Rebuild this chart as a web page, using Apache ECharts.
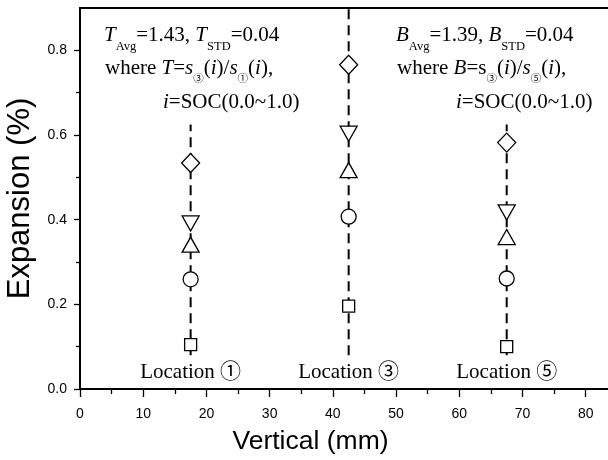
<!DOCTYPE html>
<html>
<head>
<meta charset="utf-8">
<script src="https://cdn.jsdelivr.net/npm/echarts@6/dist/echarts.min.js"></script>
<style>
  html, body { margin: 0; padding: 0; background: #fff; }
  #chart { width: 608px; height: 460px; }
</style>
</head>
<body>
<div id="chart"></div>
<script>
// Measurement positions along the cell height (mm) and their names
const locations = [17.5, 42.5, 67.5];
const locationNames = ['Location ①', 'Location ③', 'Location ⑤'];
const locationLabelY = [0.04, 0.04, 0.04];

// Expansion (%) at each location, one array per SOC marker
const squareVals  = [0.105, 0.196, 0.100];
const circleVals  = [0.259, 0.407, 0.261];
const upTriVals   = [0.341, 0.517, 0.359];
const downTriVals = [0.391, 0.603, 0.417];
const diamondVals = [0.534, 0.766, 0.582];

// Vertical dashed guides through each location
const guideLow  = [0.08, 0.08, 0.08];
const guideHigh = [0.625, 0.95, 0.625];

// Axis ticks
const xTickLabels = [0, 10, 20, 30, 40, 50, 60, 70, 80];
const xMinorTicks = [5, 15, 25, 35, 45, 55, 65, 75];
const yTickLabels = [0, 0.2, 0.4, 0.6, 0.8];
const yMinorTicks = [0.1, 0.3, 0.5, 0.7];

const SERIF = "'Liberation Serif', 'Times New Roman', 'Noto Sans CJK JP', serif";
const SANS = "'Liberation Sans', Arial, sans-serif";

const pairs = vals => locations.map((x, i) => [x, vals[i]]);

const markerBase = {
  type: 'scatter',
  z: 5,
  itemStyle: { color: '#fff', borderColor: '#000', borderWidth: 1.3, opacity: 1 },
  emphasis: { disabled: true },
  silent: true
};

const guideSeries = locations.map((x, i) => ({
  type: 'line',
  z: 2,
  symbol: 'none',
  silent: true,
  lineStyle: { color: '#000', width: 2, type: [10, 6] },
  data: [[x, guideLow[i]], [x, guideHigh[i]]]
}));

const markerSeries = [
  { ...markerBase, symbol: 'rect', symbolSize: 12, data: pairs(squareVals) },
  { ...markerBase, symbol: 'circle', symbolSize: 15, data: pairs(circleVals) },
  { ...markerBase, symbol: 'triangle', symbolSize: [17, 15], data: pairs(upTriVals) },
  { ...markerBase, symbol: 'triangle', symbolRotate: 180, symbolSize: [17, 15], data: pairs(downTriVals) },
  { ...markerBase, symbol: 'diamond', symbolSize: [18, 19], data: pairs(diamondVals) }
];

// Location captions sit on invisible points
const labelSeries = {
  type: 'scatter',
  z: 6,
  symbol: 'circle',
  symbolSize: 0,
  itemStyle: { color: 'rgba(0,0,0,0)', opacity: 1 },
  emphasis: { disabled: true },
  silent: true,
  label: {
    show: true,
    position: 'inside',
    color: '#000',
    opacity: 1,
    fontFamily: SERIF,
    fontSize: 21,
    formatter: p => locationNames[p.dataIndex]
  },
  data: locations.map((x, i) => [x, locationLabelY[i]])
};

// Rich-text styles for the ratio annotations
const rich = {
  n:   { fontFamily: SERIF, fontSize: 21, color: '#000' },
  it:  { fontFamily: SERIF, fontSize: 21, fontStyle: 'italic', color: '#000' },
  sub: { fontFamily: SERIF, fontSize: 12.5, color: '#000', padding: [22, 0, 0, 0] },
  c:   { fontFamily: "'Noto Sans CJK JP', " + SERIF, fontSize: 10.5, color: '#000', padding: [20, 0, 0, 0] }
};

function note(x, y, text) {
  return {
    type: 'text', left: x, top: y, z: 10, silent: true,
    style: { text: text, rich: rich, fill: '#000', font: '21px ' + SERIF }
  };
}

const chart = echarts.init(document.getElementById('chart'), null, { renderer: 'canvas' });
chart.setOption({
  animation: false,
  backgroundColor: '#fff',
  grid: {
    left: 80, right: -3, top: 8, bottom: 71,
    outerBoundsMode: 'none',
    show: true, borderColor: '#000', borderWidth: 2, backgroundColor: 'transparent'
  },
  xAxis: [
    {
      type: 'value', min: 0, max: 84, position: 'bottom',
      name: 'Vertical (mm)', nameLocation: 'middle', nameGap: 39,
      nameTextStyle: { fontFamily: SANS, fontSize: 26.5, color: '#000', padding: [0, 70, 0, 0] },
      axisLine: { show: true, onZero: false, lineStyle: { color: '#000', width: 1.5 } },
      axisTick: { show: true, length: 8, customValues: xTickLabels, lineStyle: { color: '#000', width: 1.3 } },
      axisLabel: { customValues: xTickLabels, margin: 18, fontFamily: SANS, fontSize: 14, color: '#000' },
      splitLine: { show: false }
    },
    {
      type: 'value', min: 0, max: 84, position: 'bottom',
      axisLine: { show: false },
      axisTick: { show: true, length: 5, customValues: xMinorTicks, lineStyle: { color: '#000', width: 1.3 } },
      axisLabel: { show: false },
      splitLine: { show: false }
    }
  ],
  yAxis: [
    {
      type: 'value', min: 0, max: 0.9, position: 'left',
      name: 'Expansion (%)', nameLocation: 'middle', nameGap: 44,
      nameTextStyle: { fontFamily: SANS, fontSize: 31, color: '#000' },
      axisLine: { show: true, onZero: false, lineStyle: { color: '#000', width: 1.5 } },
      axisTick: { show: true, length: 6, customValues: yTickLabels, lineStyle: { color: '#000', width: 1.3 } },
      axisLabel: { customValues: yTickLabels, margin: 13, fontFamily: SANS, fontSize: 14, color: '#000',
                   formatter: v => v.toFixed(1) },
      splitLine: { show: false }
    },
    {
      type: 'value', min: 0, max: 0.9, position: 'left',
      axisLine: { show: false },
      axisTick: { show: true, length: 4, customValues: yMinorTicks, lineStyle: { color: '#000', width: 1.3 } },
      axisLabel: { show: false },
      splitLine: { show: false }
    }
  ],
  series: [...guideSeries, ...markerSeries, labelSeries],
  graphic: [
    note(104, 25, '{it|T}{sub|Avg}{n|=1.43, }{it|T}{sub|STD}{n|=0.04}'),
    note(105, 58, '{n|where }{it|T}{n|=}{it|s}{c|③}{n|(}{it|i}{n|)/}{it|s}{c|①}{n|(}{it|i}{n|),}'),
    note(163, 92, '{it|i}{n|=SOC(0.0~1.0)}'),
    note(396, 25, '{it|B}{sub|Avg}{n|=1.39, }{it|B}{sub|STD}{n|=0.04}'),
    note(397, 58, '{n|where }{it|B}{n|=s}{c|③}{n|(}{it|i}{n|)/}{it|s}{c|⑤}{n|(}{it|i}{n|),}'),
    note(456, 92, '{it|i}{n|=SOC(0.0~1.0)}')
  ]
});
</script>
</body>
</html>
